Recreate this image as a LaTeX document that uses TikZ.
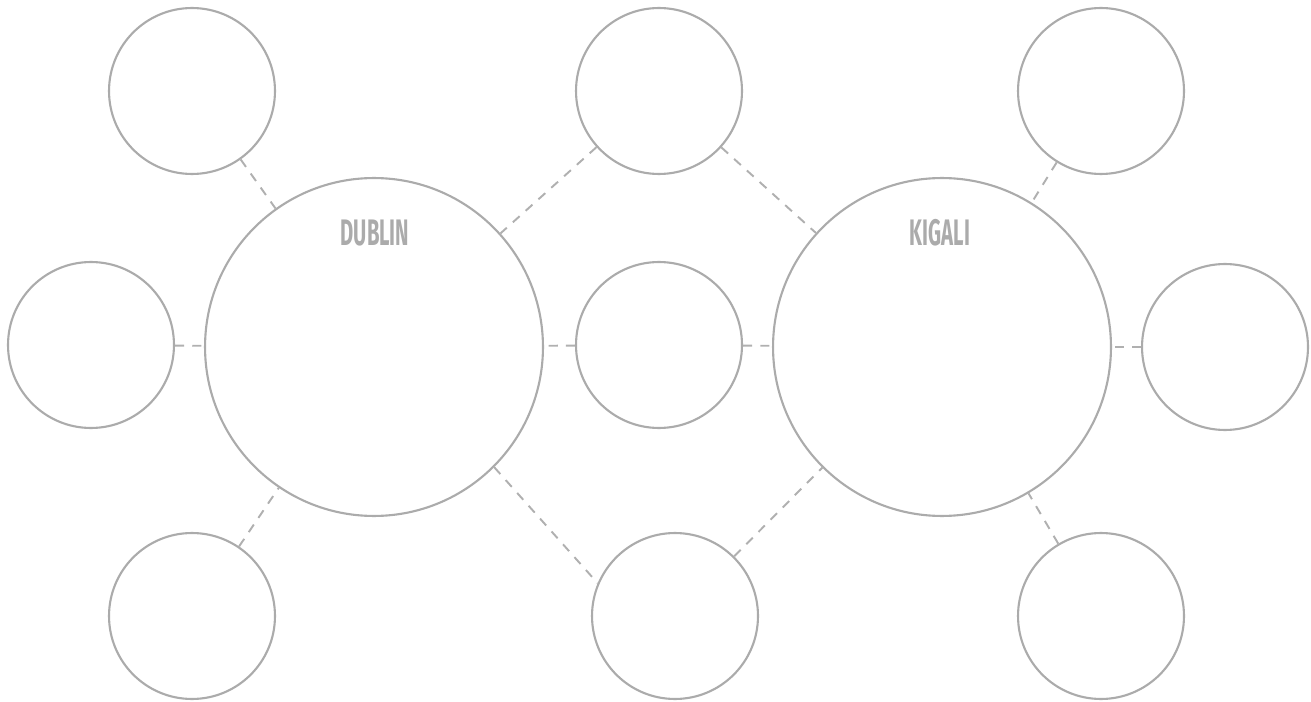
\documentclass[tikz,border=0pt]{standalone}
\usepackage{fontspec}
\setmainfont{Fira Sans}
\definecolor{ringgray}{HTML}{ABABAB}
\definecolor{linkgray}{HTML}{B0B0B0}

\begin{document}
\begin{tikzpicture}[x=0.02cm, y=-0.02cm, line cap=round, line join=round]
  \def\ds{3.32cm} % đường kính vòng tròn nhỏ
  \def\db{6.76cm} % đường kính vòng tròn lớn
  \tikzset{
    small_ring/.style={circle, draw=ringgray, line width=1.2pt, minimum size=\ds, inner sep=0pt},
    big_ring/.style={circle, draw=ringgray, line width=1.2pt, minimum size=\db, inner sep=0pt},
    link/.style={draw=linkgray, line width=1.1pt, line cap=butt, dash pattern=on 5.2pt off 4.6pt},
    city_label/.style={text=ringgray, font=\bfseries\fontsize{21pt}{24pt}\selectfont, xscale=0.55, transform shape}
  }
  \useasboundingbox (0,0) rectangle (1311,702);

  % hai vòng tròn lớn
  \node[big_ring] (dublin) at (374,347) {};
  \node[big_ring] (kigali) at (942,347) {};
  \node[city_label] (dublin_label) at (375,233) {DUBLIN};
  \node[city_label] (kigali_label) at (940,233) {KIGALI};

  % vòng tròn nhỏ bên trái
  \node[small_ring] (top_left) at (192,91) {};
  \node[small_ring] (mid_left) at (91,345) {};
  \node[small_ring] (bot_left) at (192,616) {};

  % vòng tròn nhỏ ở giữa
  \node[small_ring] (top_mid) at (659,91) {};
  \node[small_ring] (mid_mid) at (659,345) {};
  \node[small_ring] (bot_mid) at (675,616) {};

  % vòng tròn nhỏ bên phải
  \node[small_ring] (top_right) at (1101,91) {};
  \node[small_ring] (mid_right) at (1225,347) {};
  \node[small_ring] (bot_right) at (1101,616) {};

  % nét đứt nối
  \draw[link] (top_left) -- (dublin);
  \draw[link] (mid_left) -- (dublin);
  \draw[link] (bot_left) -- (dublin);
  \draw[link] (top_mid) -- (dublin);
  \draw[link] (mid_mid) -- (dublin);
  \draw[link] (dublin.-45) -- (bot_mid.157);
  \draw[link] (top_mid) -- (kigali);
  \draw[link] (mid_mid) -- (kigali);
  \draw[link] (bot_mid) -- (kigali);
  \draw[link] (top_right) -- (kigali);
  \draw[link] (mid_right) -- (kigali);
  \draw[link] (bot_right) -- (kigali);

\end{tikzpicture}
\end{document}
